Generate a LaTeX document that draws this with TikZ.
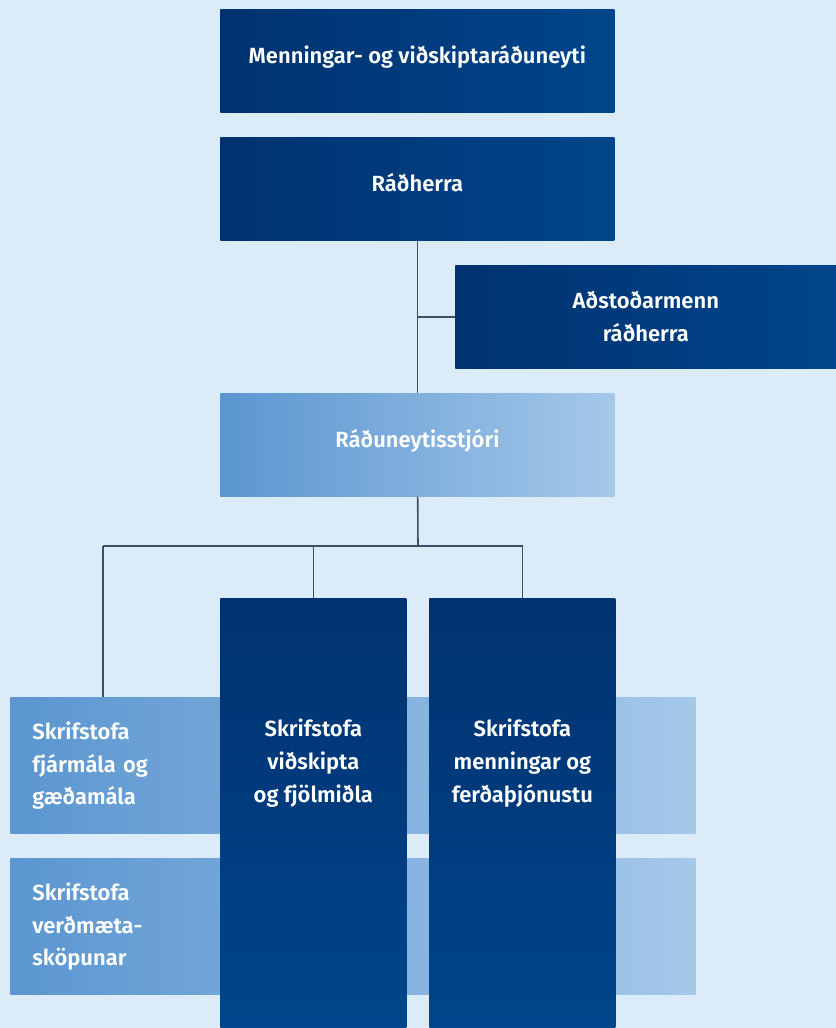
\documentclass[tikz,border=0pt]{standalone}
\usepackage{fontspec}
\setmainfont{Fira Sans}[BoldFont={Fira Sans SemiBold}]
\usepackage{tikz}
\usepackage{xcolor}

\definecolor{bgblue}{HTML}{DCEBF8}
\definecolor{darkA}{HTML}{003270}
\definecolor{darkB}{HTML}{00458B}
\definecolor{lightA}{HTML}{5B96D0}
\definecolor{lightB}{HTML}{A5C8EA}
\definecolor{linecol}{HTML}{3D4F66}

\begin{document}
\begin{tikzpicture}[
  boxfont/.style={text=white, font=\bfseries\fontsize{12.5}{18.7}\selectfont},
  oneline/.style={text height=0.75em, text depth=0.45em},
  darkbox/.style={anchor=north west, inner sep=0pt, boxfont, align=center, left color=darkA, right color=darkB},
  lightbox/.style={anchor=north west, inner sep=0pt, boxfont, align=center, left color=lightA, right color=lightB},
  column/.style={anchor=north west, inner sep=0pt, top color=darkA, bottom color=darkB, minimum width=3.72cm, minimum height=8.6cm},
  coltext/.style={inner sep=0pt, boxfont, align=center},
  band/.style={anchor=north west, inner xsep=0.44cm, inner ysep=0pt, boxfont, align=left, text width=12.82cm, minimum height=2.73cm, left color=lightA, right color=lightB},
  conn/.style={draw=linecol, line width=0.9pt}]
  \fill[bgblue] (0,0) rectangle (16.72,-20.56);
  \useasboundingbox (0,0) rectangle (16.72,-20.56);

  %coordinates
  \coordinate (MinBox)  at (4.40,-0.18);
  \coordinate (RadBox)  at (4.40,-2.74);
  \coordinate (AdsBox)  at (9.10,-5.30);
  \coordinate (StjBox)  at (4.40,-7.86);
  \coordinate (BandOne) at (0.20,-13.94);
  \coordinate (BandTwo) at (0.20,-17.16);
  \coordinate (ColOne)  at (4.40,-11.96);
  \coordinate (ColTwo)  at (8.58,-11.96);
  \coordinate (bus)     at (8.36,-10.92);
  \coordinate (busL)    at (2.06,-10.92);

  %nodes
  \node[darkbox, oneline, minimum width=7.88cm, minimum height=2.06cm] (min) at (MinBox) {Menningar- og viðskiptaráðuneyti};
  \node[darkbox, oneline, minimum width=7.88cm, minimum height=2.06cm] (rad) at (RadBox) {Ráðherra};
  \node[darkbox, minimum width=7.62cm, minimum height=2.06cm] (ads) at (AdsBox) {Aðstoðarmenn \\ ráðherra};
  \node[lightbox, oneline, minimum width=7.88cm, minimum height=2.06cm] (stj) at (StjBox) {Ráðuneytisstjóri};
  \node[band] (fja) at (BandOne) {Skrifstofa \\ fjármála og \\ gæðamála};
  \node[band] (ver) at (BandTwo) {Skrifstofa \\ verðmæta- \\ sköpunar};
  \node[column] (vid) at (ColOne) {};
  \node[column] (men) at (ColTwo) {};
  \node[coltext] (vidtext) at ([yshift=-3.30cm]vid.north) {Skrifstofa \\ viðskipta \\ og fjölmiðla};
  \node[coltext] (mentext) at ([yshift=-3.30cm]men.north) {Skrifstofa \\ menningar og \\ ferðaþjónustu};

  %connectors
  \draw[conn] (rad) -- (stj);
  \draw[conn] (ads.west) -- (ads.west -| rad.south);
  \draw[conn] (stj) -- (bus);
  \draw[conn] (busL) -- (men.north |- busL) -- (men.north);
  \draw[conn] (busL) -- (busL |- fja.north);
  \draw[conn] (vid.north) -- (vid.north |- busL);

\end{tikzpicture}
\end{document}
